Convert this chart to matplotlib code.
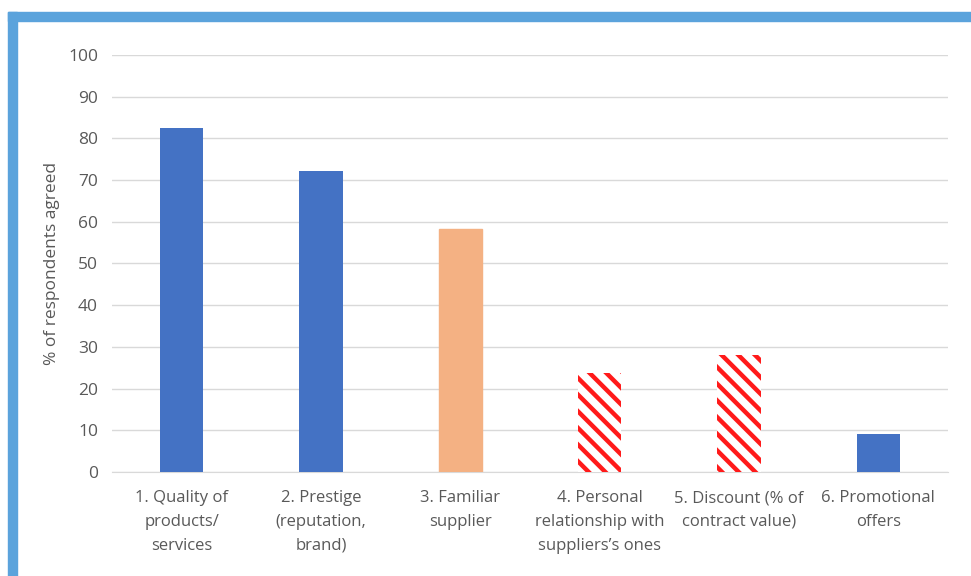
import matplotlib.pyplot as plt
from matplotlib.patches import Rectangle

categories = ["1. Quality of\nproducts/\nservices",
              "2. Prestige\n(reputation,\nbrand)",
              "3. Familiar\nsupplier",
              "4. Personal\nrelationship with\nsuppliers\u2019s ones",
              "5. Discount (% of\ncontract value)",
              "6. Promotional\noffers"]
values = [82.5, 72.3, 58.2, 23.8, 28.0, 9.2]
yticks = [0, 10, 20, 30, 40, 50, 60, 70, 80, 90, 100]

plt.rcParams['font.family'] = ['Open Sans', 'DejaVu Sans']
plt.rcParams['hatch.linewidth'] = 3.2

fig = plt.figure(figsize=(9.71, 5.76), dpi=100)
ax = fig.add_axes([0.1153, 0.1806, 0.8610, 0.7239])

gray = '#595959'
red = '#FF1A1A'
x = range(len(values))
bars = ax.bar(x, values, width=0.31, color='#4472C4', zorder=3)
bars[2].set_color('#F4B183')
for i in (3, 4):
    bars[i].set_facecolor('white')
    bars[i].set_edgecolor(red)
    bars[i].set_hatch('\\\\')
    bars[i].set_linewidth(0)

ax.set_xlim(-0.5, 5.5)
ax.set_ylim(0, 100)
ax.set_yticks(yticks)
ax.set_xticks(list(x))
ax.set_xticklabels(categories, fontsize=12, color=gray, linespacing=1.65)
ax.tick_params(axis='y', labelsize=12.5, colors=gray, length=0, pad=10)
ax.tick_params(axis='x', length=0, pad=13)
ax.grid(axis='y', color='#D9D9D9', linewidth=1, zorder=0)
for s in ['top', 'right', 'left']:
    ax.spines[s].set_visible(False)
ax.spines['bottom'].set_color('#D9D9D9')
ax.set_ylabel('% of respondents agreed', fontsize=12.5, color=gray, labelpad=6)

# blue frame on top and left edges
W, H = 971, 576
fig.patches.append(Rectangle((8 / W, 0), 9 / W, 1 - 12 / H, transform=fig.transFigure,
                             color='#5BA3DC', zorder=0))
fig.patches.append(Rectangle((8 / W, 1 - 21 / H), 1, 9 / H, transform=fig.transFigure,
                             color='#5BA3DC', zorder=0))

fig.savefig('out.png', dpi=100)
